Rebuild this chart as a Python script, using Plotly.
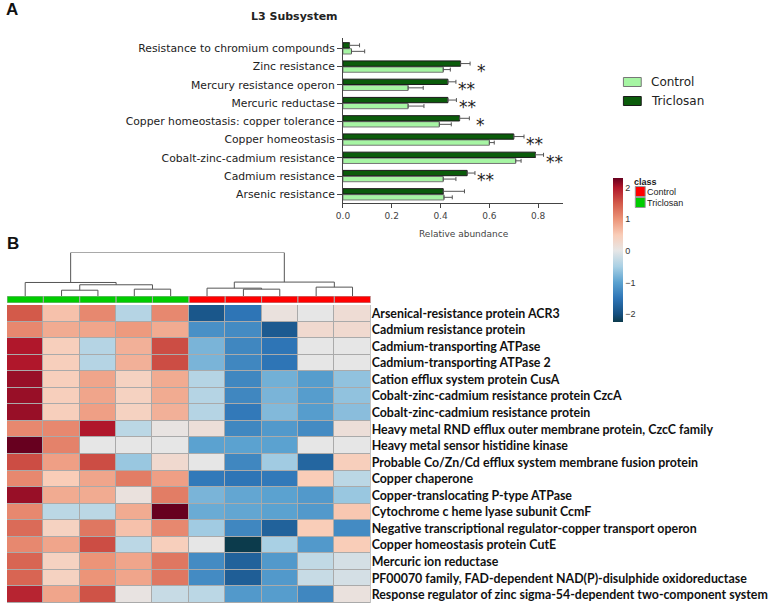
import plotly.graph_objects as go

W, H = 779, 604

# ---- panel A: L3 subsystem relative abundance ----
subsystems = ["Arsenic resistance", "Cadmium resistance", "Cobalt-zinc-cadmium resistance",
              "Copper homeostasis", "Copper homeostasis: copper tolerance", "Mercuric reductase",
              "Mercury resistance operon", "Zinc resistance", "Resistance to chromium compounds"]
control = [0.414, 0.411, 0.708, 0.600, 0.395, 0.267, 0.267, 0.411, 0.035]
control_err = [0.034, 0.052, 0.022, 0.020, 0.049, 0.065, 0.062, 0.029, 0.054]
triclosan = [0.411, 0.509, 0.789, 0.700, 0.478, 0.430, 0.430, 0.482, 0.027]
triclosan_err = [0.087, 0.032, 0.033, 0.042, 0.040, 0.035, 0.033, 0.039, 0.041]
stars = ["", "**", "**", "**", "*", "**", "**", "*", ""]

# ---- panel B: heatmap ----
genes = ["Arsenical-resistance protein ACR3", "Cadmium resistance protein",
         "Cadmium-transporting ATPase", "Cadmium-transporting ATPase 2",
         "Cation efflux system protein CusA", "Cobalt-zinc-cadmium resistance protein CzcA",
         "Cobalt-zinc-cadmium resistance protein",
         "Heavy metal RND efflux outer membrane protein, CzcC family",
         "Heavy metal sensor histidine kinase",
         "Probable Co/Zn/Cd efflux system membrane fusion protein", "Copper chaperone",
         "Copper-translocating P-type ATPase", "Cytochrome c heme lyase subunit CcmF",
         "Negative transcriptional regulator-copper transport operon",
         "Copper homeostasis protein CutE", "Mercuric ion reductase",
         "PF00070 family, FAD-dependent NAD(P)-disulphide oxidoreductase",
         "Response regulator of zinc sigma-54-dependent two-component system"]
zscores = [
    [1.5, 0.6, 1.1, -0.4, 1.1, -1.9, -1.5, 0.1, 0.0, 0.2],
    [1.1, 0.8, 0.85, 0.95, 0.8, -1.2, -1.25, -1.85, 0.25, 0.25],
    [2.0, 0.45, -0.4, 0.75, 1.6, -0.8, -1.3, -1.5, 0.0, 0.0],
    [2.0, 0.45, -0.4, 0.75, 1.6, -0.8, -1.3, -1.5, 0.0, 0.0],
    [2.1, 0.45, 0.85, 0.4, 0.8, -0.4, -1.3, -0.85, -1.05, -0.65],
    [2.1, 0.45, 0.85, 0.4, 0.8, -0.4, -1.3, -0.8, -1.05, -0.65],
    [2.1, 0.45, 0.9, 0.4, 0.75, -0.4, -1.45, -0.75, -1.05, -0.7],
    [1.1, 1.1, 2.0, -0.35, 0.05, 0.15, -1.3, -1.1, -1.25, 0.15],
    [2.3, 1.15, 0.0, 0.0, 0.0, -1.0, -1.0, -1.0, 0.0, 0.0],
    [1.6, 0.9, 1.6, -0.6, 0.25, 0.0, -1.3, -0.55, -1.7, 0.45],
    [1.1, 0.5, 0.85, 1.2, 0.9, -1.45, -1.5, -1.45, 0.5, -0.35],
    [2.1, 0.8, 0.8, 0.1, 1.2, -0.8, -0.95, -1.0, -1.1, -0.6],
    [1.1, -0.35, -0.35, 0.8, 2.3, -0.9, -0.95, -1.0, -1.1, 0.55],
    [1.35, 0.4, 1.25, 0.6, 1.1, -0.55, -1.3, -1.75, 0.5, -1.25],
    [1.1, 0.85, 1.6, -0.35, 0.45, 0.0, -2.25, -0.5, -1.1, 0.5],
    [1.4, 0.4, 1.0, 0.85, 1.25, -1.25, -1.75, -1.1, -0.3, -0.15],
    [1.4, 0.4, 1.0, 0.85, 1.25, -1.25, -1.8, -1.1, -0.25, -0.15],
    [1.9, 0.85, 1.55, 0.05, -0.25, -0.35, -1.1, -1.05, -1.3, 0.1],
]
sample_class = ["Triclosan"] * 5 + ["Control"] * 5
# dendrogram merges (scipy-style ids: leaves 0-9, new clusters from 10), relative heights
merges = [(1, 2, 0.133), (3, 4, 0.157), (10, 11, 0.258), (0, 12, 0.311),
          (6, 7, 0.157), (5, 14, 0.18), (8, 9, 0.204), (15, 16, 0.32), (13, 17, 1.0)]

LIGHT, DARK = "#a6f5a3", "#0b5c0b"
CLASS_COLORS = {"Control": "#ff0000", "Triclosan": "#00cc00"}

fig = go.Figure()

# ---- A: bars ----
fig.add_trace(go.Bar(
    y=subsystems, x=control, orientation="h", name="Control",
    marker=dict(color=LIGHT, line=dict(color="#777777", width=1)),
    error_x=dict(type="data", array=control_err, symmetric=False,
                 arrayminus=[0] * len(control), color="#555555", thickness=1, width=2),
    xaxis="x", yaxis="y"))
fig.add_trace(go.Bar(
    y=subsystems, x=triclosan, orientation="h", name="Triclosan",
    marker=dict(color=DARK, line=dict(color="#1a1a1a", width=1)),
    error_x=dict(type="data", array=triclosan_err, symmetric=False,
                 arrayminus=[0] * len(triclosan), color="#555555", thickness=1, width=2),
    xaxis="x", yaxis="y"))

for i, s in enumerate(stars):
    if not s:
        continue
    top = max(control[i] + control_err[i], triclosan[i] + triclosan_err[i])
    fig.add_annotation(x=top + 0.045, y=subsystems[i], xref="x", yref="y",
                       text=s, showarrow=False, yshift=-4,
                       font=dict(family="DejaVu Sans", size=17, color="#222222"))

# ---- B: heatmap ----
cscale = [[0.0, "#0c3b4c"], [0.055, "#154f80"], [0.165, "#2e75b6"], [0.275, "#5ba2d0"],
          [0.385, "#a9d0e4"], [0.4945, "#e6e6e6"], [0.604, "#f9cdb8"], [0.714, "#ec9478"],
          [0.824, "#d35a4a"], [0.934, "#b0172b"], [1.0, "#67001f"]]
fig.add_trace(go.Heatmap(
    z=zscores, y=genes, x=list(range(10)), xaxis="x2", yaxis="y2",
    colorscale=cscale, zmin=-2.25, zmax=2.3, xgap=1, ygap=1,
    colorbar=dict(x=611.5 / W, xanchor="left", y=1 - 250 / H, yanchor="middle",
                  thickness=10, lenmode="pixels", len=144, outlinewidth=0,
                  tickvals=[-2, -1, 0, 1, 2], ticks="", xpad=0, ypad=0,
                  tickfont=dict(family="Liberation Sans", size=9, color="#333333"))))
fig.add_shape(type="rect", xref="x2 domain", yref="y2 domain", x0=0, x1=1, y0=0, y1=1,
              fillcolor="#aaaaaa", line=dict(width=0), layer="below")

# class bar
for cls in ["Control", "Triclosan"]:
    idx = [i for i, c in enumerate(sample_class) if c == cls]
    fig.add_trace(go.Bar(
        x=idx, y=[1] * len(idx), width=1, offsetgroup="cls", name=cls,
        marker=dict(color=CLASS_COLORS[cls], line=dict(color="#aaaaaa", width=1)),
        xaxis="x2", yaxis="y3", hoverinfo="skip"))

# dendrogram from merges
pos = {i: (float(i), 0.0) for i in range(10)}
dx, dy = [], []
for k, (a, b, h) in enumerate(merges):
    xa, ha = pos[a]
    xb, hb = pos[b]
    dx += [xa, xa, xb, xb, None]
    dy += [ha, h, h, hb, None]
    pos[10 + k] = ((xa + xb) / 2, h)
fig.add_trace(go.Scatter(x=dx, y=dy, mode="lines", line=dict(color="#555555", width=1),
                         xaxis="x2", yaxis="y4", hoverinfo="skip"))

# ---- legends drawn as keys + labels ----
anns = []
for j, (name, col, edge) in enumerate([("Control", LIGHT, "#777777"),
                                       ("Triclosan", DARK, "#1a1a1a")]):
    yc = 82 + 19 * j
    fig.add_shape(type="rect", xref="paper", yref="paper",
                  x0=622 / W, x1=640 / W, y0=1 - (yc + 4.5) / H, y1=1 - (yc - 4.5) / H,
                  fillcolor=col, line=dict(color=edge, width=1))
    anns.append(dict(text=name, x=648 / W, y=1 - yc / H, xref="paper", yref="paper",
                     xanchor="left", yanchor="middle", showarrow=False,
                     font=dict(family="DejaVu Sans", size=12, color="#222222")))

anns.append(dict(text="<b>class</b>", x=631 / W, y=1 - 181.5 / H, xref="paper",
                 yref="paper", xanchor="left", yanchor="middle", showarrow=False,
                 font=dict(family="Liberation Sans", size=9, color="#222222")))
for j, cls in enumerate(["Control", "Triclosan"]):
    yc = 191.5 + 11 * j
    fig.add_shape(type="rect", xref="paper", yref="paper",
                  x0=634 / W, x1=644 / W, y0=1 - (yc + 5) / H, y1=1 - (yc - 5) / H,
                  fillcolor=CLASS_COLORS[cls], line=dict(color="#999999", width=1))
    anns.append(dict(text=cls, x=644 / W, y=1 - yc / H, xref="paper", yref="paper",
                     xanchor="left", yanchor="middle", showarrow=False,
                     font=dict(family="Liberation Sans", size=9, color="#222222")))

axfont = dict(family="DejaVu Sans", size=9, color="#444444")
anns += [
    dict(text="<b>A</b>", x=0, y=1, xref="paper", yref="paper", xanchor="left",
         yanchor="top", showarrow=False, xshift=-3, yshift=2,
         font=dict(family="Liberation Sans", size=17, color="#111111")),
    dict(text="<b>B</b>", x=0, y=1 - 232 / H, xref="paper", yref="paper",
         xanchor="left", yanchor="top", showarrow=False, xshift=-2,
         font=dict(family="Liberation Sans", size=17, color="#111111")),
    dict(text="<b>L3 Subsystem</b>", x=290 / W, y=1 - 16 / H, xref="paper",
         yref="paper", yanchor="middle", showarrow=False,
         font=dict(family="DejaVu Sans", size=11, color="#222222")),
    dict(text="Relative abundance", x=461 / W, y=1 - 234 / H, xref="paper",
         yref="paper", yanchor="middle", showarrow=False, font=axfont),
]

fig.update_layout(
    width=W, height=H, margin=dict(l=0, r=0, t=0, b=0),
    plot_bgcolor="white", paper_bgcolor="white", showlegend=False,
    barmode="group", bargap=0.34, bargroupgap=0.12,
    xaxis=dict(domain=[339 / W, 560.6 / W], range=[0, 0.9], anchor="y",
               tickvals=[0, 0.2, 0.4, 0.6, 0.8], tickformat=".1f",
               showline=True, linecolor="#444444", linewidth=1, ticks="outside",
               ticklen=4, tickcolor="#444444", showgrid=False, zeroline=False,
               tickfont=axfont),
    yaxis=dict(domain=[1 - 202.7 / H, 1 - 38.3 / H], range=[-0.46, 8.55], anchor="x",
               showline=True, linecolor="#444444", linewidth=1, ticks="outside",
               ticklen=5, tickcolor="#444444", showgrid=False,
               tickfont=dict(family="DejaVu Sans", size=10.8, color="#222222")),
    xaxis2=dict(domain=[0, 367 / W], range=[-0.5, 9.5], anchor="y2", visible=False),
    yaxis2=dict(domain=[1 - 603 / H, 1 - 305 / H], anchor="x2", side="right",
                autorange="reversed", showgrid=False, ticks="", showline=False,
                tickfont=dict(family="Lato", size=12.4, color="#111111", weight="bold")),
    yaxis3=dict(domain=[1 - 303 / H, 1 - 296 / H], range=[0, 1], anchor="x2", visible=False),
    yaxis4=dict(domain=[1 - 296 / H, 1 - 252.5 / H], range=[0, 1.0], anchor="x2",
                visible=False),
    annotations=list(fig.layout.annotations) + anns,
)

fig.write_html("out.html", config={"displayModeBar": False},
               post_script="document.body.style.margin='0px';")
